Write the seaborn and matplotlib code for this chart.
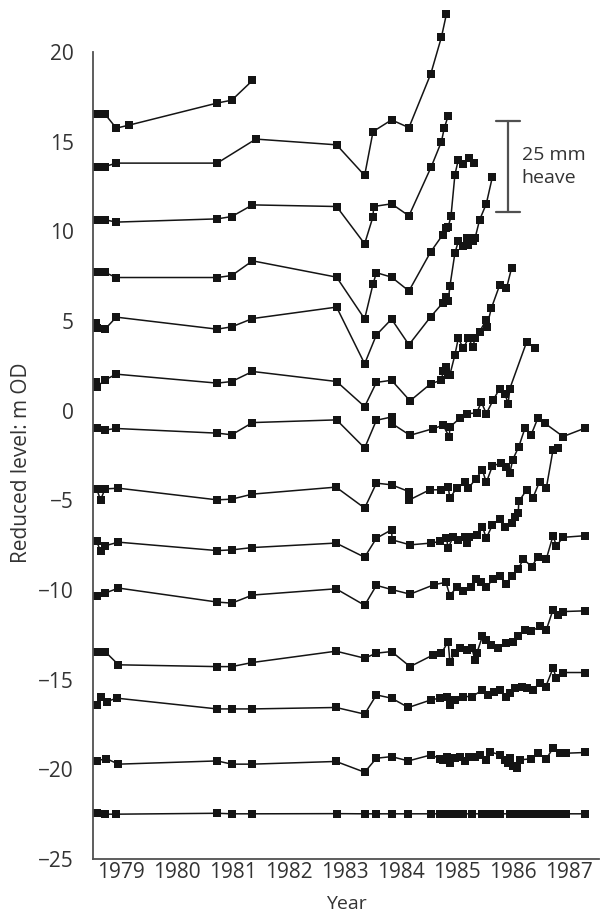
import numpy as np
import pandas as pd
import seaborn as sns
import matplotlib.pyplot as plt

# survey dates (decimal year) and reduced levels (m OD) for each levelling point
yr_a = [1979.07, 1979.22, 1979.42, 1979.65, 1981.22, 1981.48, 1981.85]
lv_a = [16.54, 16.54, 15.76, 15.93, 17.16, 17.32, 18.42]

yr_b = [1979.07, 1979.22, 1979.42, 1981.22, 1981.91, 1983.35, 1983.85, 1984.00,
        1984.33, 1984.64, 1985.03, 1985.22, 1985.31]
lv_b = [13.62, 13.62, 13.81, 13.81, 15.15, 14.83, 13.12, 15.57,
        16.22, 15.79, 18.79, 20.84, 22.14]

yr_c = [1979.07, 1979.22, 1979.42, 1981.22, 1981.48, 1981.85, 1983.35, 1983.85,
        1984.00, 1984.01, 1984.33, 1984.64, 1985.04, 1985.22, 1985.27, 1985.34]
lv_c = [10.65, 10.65, 10.52, 10.70, 10.83, 11.48, 11.39, 9.31,
        10.83, 11.39, 11.54, 10.87, 13.62, 15.01, 15.76, 16.45]

yr_d = [1979.07, 1979.22, 1979.42, 1981.22, 1981.48, 1981.85, 1983.35, 1983.85,
        1984.00, 1984.06, 1984.33, 1984.64, 1985.03, 1985.24, 1985.31, 1985.34,
        1985.39, 1985.46, 1985.52, 1985.61, 1985.71, 1985.80]
lv_d = [7.71, 7.71, 7.43, 7.43, 7.54, 8.36, 7.45, 5.12,
        7.07, 7.70, 7.45, 6.68, 8.87, 9.80, 10.18, 10.25,
        10.84, 13.16, 13.99, 13.77, 14.08, 13.84]

yr_e = [1979.06, 1979.08, 1979.22, 1979.42, 1981.22, 1981.48, 1981.85, 1983.35,
        1983.85, 1984.06, 1984.33, 1984.64, 1985.03, 1985.24, 1985.31, 1985.34,
        1985.37, 1985.46, 1985.52, 1985.61, 1985.67, 1985.70, 1985.78, 1985.82,
        1985.90, 1986.02, 1986.13]
lv_e = [4.89, 4.61, 4.55, 5.22, 4.55, 4.68, 5.14, 5.78,
        2.62, 4.23, 5.11, 3.68, 5.25, 6.00, 6.37, 6.10,
        6.93, 8.79, 9.44, 9.16, 9.63, 9.25, 9.44, 9.63,
        10.64, 11.54, 13.06]

yr_f = [1979.06, 1979.08, 1979.22, 1979.42, 1981.22, 1981.48, 1981.85, 1983.35,
        1983.85, 1984.06, 1984.33, 1984.66, 1985.03, 1985.22, 1985.25, 1985.31,
        1985.34, 1985.37, 1985.46, 1985.52, 1985.61, 1985.70, 1985.78, 1985.82,
        1985.90, 1986.02, 1986.03, 1986.11, 1986.26, 1986.38, 1986.47]
lv_f = [1.63, 1.35, 1.72, 2.04, 1.54, 1.63, 2.19, 1.63,
        0.23, 1.58, 1.70, 0.55, 1.51, 1.70, 2.19, 2.46,
        2.00, 2.00, 3.11, 4.04, 3.48, 4.04, 3.57, 4.04,
        4.41, 5.07, 4.69, 5.72, 7.02, 6.83, 7.95]

yr_g = [1979.07, 1979.22, 1979.42, 1981.22, 1981.48, 1981.85, 1983.35, 1983.85,
        1984.06, 1984.33, 1984.34, 1984.66, 1985.07, 1985.25, 1985.36, 1985.37,
        1985.55, 1985.67, 1985.85, 1985.93, 1986.02, 1986.14, 1986.26, 1986.35,
        1986.41, 1986.44, 1986.74, 1986.88]
lv_g = [-0.97, -1.07, -0.99, -1.25, -1.34, -0.66, -0.51, -2.08,
        -0.53, -0.35, -0.72, -1.37, -1.00, -0.81, -1.46, -0.91,
        -0.41, -0.16, -0.13, 0.49, -0.16, 0.58, 1.24, 0.96,
        0.40, 1.24, 3.84, 3.51]

yr_h = [1979.07, 1979.14, 1979.22, 1979.46, 1981.22, 1981.48, 1981.85, 1983.34,
        1983.85, 1984.06, 1984.33, 1984.64, 1984.65, 1985.01, 1985.22, 1985.34,
        1985.37, 1985.49, 1985.64, 1985.70, 1985.83, 1985.95, 1986.02, 1986.13,
        1986.29, 1986.38, 1986.44, 1986.49, 1986.60, 1986.71, 1986.82, 1986.94,
        1987.06, 1987.39, 1987.78]
lv_h = [-4.36, -4.97, -4.36, -4.32, -4.97, -4.93, -4.65, -4.26,
        -5.43, -4.04, -4.13, -4.51, -4.97, -4.41, -4.41, -4.23,
        -4.87, -4.32, -4.00, -4.32, -3.81, -3.30, -4.00, -3.07,
        -2.92, -3.11, -3.48, -2.74, -2.00, -0.97, -1.34, -0.41,
        -0.69, -1.44, -0.97]

yr_i = [1979.07, 1979.14, 1979.22, 1979.46, 1981.22, 1981.48, 1981.85, 1983.34,
        1983.85, 1984.06, 1984.33, 1984.34, 1984.66, 1985.04, 1985.19, 1985.31,
        1985.34, 1985.43, 1985.52, 1985.64, 1985.68, 1985.72, 1985.85, 1985.95,
        1986.02, 1986.13, 1986.26, 1986.35, 1986.47, 1986.53, 1986.59, 1986.60,
        1986.74, 1986.85, 1986.97, 1987.09, 1987.21, 1987.30]
lv_i = [-7.26, -7.85, -7.53, -7.33, -7.80, -7.76, -7.63, -7.38,
        -8.17, -7.11, -6.64, -7.20, -7.48, -7.38, -7.29, -7.11,
        -7.66, -7.02, -7.20, -7.02, -7.38, -7.02, -6.92, -6.46,
        -7.11, -6.36, -6.03, -6.49, -6.27, -5.90, -5.68, -5.06,
        -4.41, -4.87, -3.95, -4.32, -2.18, -2.09]

yr_j = [1979.07, 1979.22, 1979.46, 1981.22, 1981.48, 1981.85, 1983.34, 1983.85,
        1984.06, 1984.33, 1984.66, 1985.09, 1985.30, 1985.37, 1985.49, 1985.61,
        1985.75, 1985.84, 1985.93, 1986.02, 1986.14, 1986.26, 1986.38, 1986.47,
        1986.59, 1986.68, 1986.83, 1986.94, 1987.09, 1987.21, 1987.27, 1987.39,
        1987.78]
lv_j = [-10.31, -10.17, -9.89, -10.67, -10.73, -10.28, -9.93, -10.85,
        -9.74, -9.97, -10.23, -9.70, -9.57, -10.31, -9.85, -10.03,
        -9.85, -9.39, -9.57, -9.85, -9.39, -9.20, -9.67, -9.20,
        -8.83, -8.27, -8.70, -8.14, -8.27, -6.97, -7.53, -7.06,
        -6.97]

yr_k = [1979.07, 1979.22, 1979.46, 1981.22, 1981.48, 1981.85, 1983.34, 1983.85,
        1984.06, 1984.33, 1984.66, 1985.07, 1985.22, 1985.34, 1985.37, 1985.46,
        1985.55, 1985.67, 1985.76, 1985.82, 1985.85, 1985.95, 1986.02, 1986.11,
        1986.23, 1986.38, 1986.50, 1986.59, 1986.71, 1986.82, 1986.97, 1987.09,
        1987.21, 1987.30, 1987.39, 1987.78]
lv_k = [-13.43, -13.43, -14.17, -14.27, -14.27, -14.04, -13.41, -13.80,
        -13.52, -13.43, -14.27, -13.62, -13.52, -12.87, -13.99, -13.52,
        -13.24, -13.33, -13.24, -13.89, -13.52, -12.59, -12.78, -13.06,
        -13.24, -12.96, -12.87, -12.59, -12.22, -12.31, -12.03, -12.22,
        -11.10, -11.38, -11.20, -11.16]

yr_l = [1979.07, 1979.14, 1979.25, 1979.43, 1981.22, 1981.48, 1981.85, 1983.34,
        1983.85, 1984.06, 1984.33, 1984.63, 1985.04, 1985.19, 1985.32, 1985.37,
        1985.46, 1985.60, 1985.77, 1985.95, 1986.05, 1986.16, 1986.26, 1986.38,
        1986.44, 1986.53, 1986.65, 1986.74, 1986.85, 1986.97, 1987.08, 1987.21,
        1987.27, 1987.39, 1987.78]
lv_l = [-16.40, -15.97, -16.22, -16.03, -16.63, -16.63, -16.63, -16.55,
        -16.92, -15.85, -16.03, -16.55, -16.12, -16.03, -15.94, -16.40,
        -16.12, -15.94, -15.94, -15.57, -15.85, -15.66, -15.57, -15.94,
        -15.76, -15.48, -15.39, -15.48, -15.57, -15.19, -15.39, -14.36,
        -14.92, -14.60, -14.60]

yr_m = [1979.07, 1979.24, 1979.46, 1981.22, 1981.48, 1981.85, 1983.34, 1983.85,
        1984.06, 1984.33, 1984.63, 1985.04, 1985.19, 1985.25, 1985.32, 1985.37,
        1985.46, 1985.55, 1985.64, 1985.72, 1985.82, 1985.90, 1986.02, 1986.08,
        1986.26, 1986.35, 1986.41, 1986.44, 1986.50, 1986.56, 1986.62, 1986.82,
        1986.94, 1987.09, 1987.21, 1987.33, 1987.45, 1987.78]
lv_m = [-19.53, -19.40, -19.71, -19.53, -19.71, -19.71, -19.56, -20.16,
        -19.38, -19.29, -19.53, -19.19, -19.41, -19.47, -19.29, -19.65,
        -19.34, -19.29, -19.53, -19.29, -19.29, -19.19, -19.47, -19.01,
        -19.19, -19.47, -19.65, -19.38, -19.84, -19.93, -19.47, -19.41,
        -19.10, -19.41, -18.82, -19.10, -19.10, -19.06]

yr_n = [1979.07, 1979.22, 1979.42, 1981.22, 1981.48, 1981.85, 1983.35, 1983.85,
        1984.06, 1984.33, 1984.63, 1985.04, 1985.19, 1985.32, 1985.46, 1985.60,
        1985.77, 1985.95, 1986.05, 1986.16, 1986.26, 1986.44, 1986.53, 1986.62,
        1986.74, 1986.85, 1986.97, 1987.08, 1987.21, 1987.33, 1987.44, 1987.78]
lv_n = [-22.45, -22.50, -22.50, -22.45, -22.48, -22.48, -22.47, -22.48,
        -22.48, -22.48, -22.48, -22.48, -22.48, -22.48, -22.48, -22.48,
        -22.48, -22.48, -22.48, -22.48, -22.48, -22.48, -22.48, -22.48,
        -22.48, -22.48, -22.48, -22.48, -22.48, -22.48, -22.48, -22.48]

year_labels = ['1979', '1980', '1981', '1982', '1983', '1984', '1985', '1986', '1987']
level_ticks = [-25, -20, -15, -10, -5, 0, 5, 10, 15, 20]

series = {'a': (yr_a, lv_a), 'b': (yr_b, lv_b), 'c': (yr_c, lv_c), 'd': (yr_d, lv_d),
          'e': (yr_e, lv_e), 'f': (yr_f, lv_f), 'g': (yr_g, lv_g), 'h': (yr_h, lv_h),
          'i': (yr_i, lv_i), 'j': (yr_j, lv_j), 'k': (yr_k, lv_k), 'l': (yr_l, lv_l),
          'm': (yr_m, lv_m), 'n': (yr_n, lv_n)}
frames = [pd.DataFrame({'year': yr, 'level': lv, 'point': name})
          for name, (yr, lv) in series.items()]
df = pd.concat(frames, ignore_index=True)

sns.set_style('white')
plt.rcParams['font.family'] = ['Open Sans', 'DejaVu Sans']
ink = '#141414'
axis_grey = '#505050'
text_grey = '#333333'

fig = plt.figure(figsize=(6.01, 9.13), dpi=100)
ax = fig.add_axes([92.7 / 601, 54 / 913, (599 - 92.7) / 601, 851.7 / 913])

sns.lineplot(data=df, x='year', y='level', units='point', estimator=None,
             color=ink, linewidth=1.1, marker='s', markersize=5.2,
             markeredgewidth=0, markerfacecolor=ink, ax=ax, legend=False)

ax.set_xlim(1979, 1988.03)
ax.set_ylim(-25, 22.5)

# axes styling
for side in ['top', 'right']:
    ax.spines[side].set_visible(False)
for side in ['left', 'bottom']:
    ax.spines[side].set_color(axis_grey)
    ax.spines[side].set_linewidth(1.3)
ax.spines['left'].set_bounds(-25, 20)

ax.set_yticks(level_ticks)
ax.set_yticklabels([str(v).replace('-', '\u2212') for v in level_ticks])
ax.tick_params(axis='y', direction='out', length=9.5, width=1.3, color=axis_grey,
               labelsize=15, labelcolor=text_grey, pad=4)

ax.set_xticks(np.arange(1980, 1989))
ax.set_xticklabels([])
ax.set_xticks(np.arange(1979.5, 1988), minor=True)
ax.set_xticklabels(year_labels, minor=True)
ax.tick_params(axis='x', which='major', direction='in', length=6, width=1.0, color=axis_grey)
ax.tick_params(axis='x', which='minor', length=0, labelsize=15, labelcolor=text_grey, pad=2)

ax.set_xlabel('')
ax.set_ylabel('')
fig.text(346 / 601, 1 - 904 / 913, 'Year', ha='center', va='center', fontsize=14, color=text_grey)
fig.text(22 / 601, 1 - 463 / 913, 'Reduced level: m OD', rotation=90, ha='center', va='center',
         fontsize=15, color=text_grey)

# 25 mm heave scale bar
bar_x, bar_lo, bar_hi = 1986.41, 11.08, 16.17
ax.plot([bar_x, bar_x], [bar_lo, bar_hi], color=axis_grey, lw=1.6)
ax.plot([bar_x - 0.21, bar_x + 0.21], [bar_lo, bar_lo], color=axis_grey, lw=1.6)
ax.plot([bar_x - 0.21, bar_x + 0.21], [bar_hi, bar_hi], color=axis_grey, lw=1.6)
ax.text(bar_x + 0.24, (bar_lo + bar_hi) / 2, '25 mm\nheave', ha='left', va='center',
        fontsize=14, color=text_grey, linespacing=1.3)

fig.savefig('out.png', dpi=100)
